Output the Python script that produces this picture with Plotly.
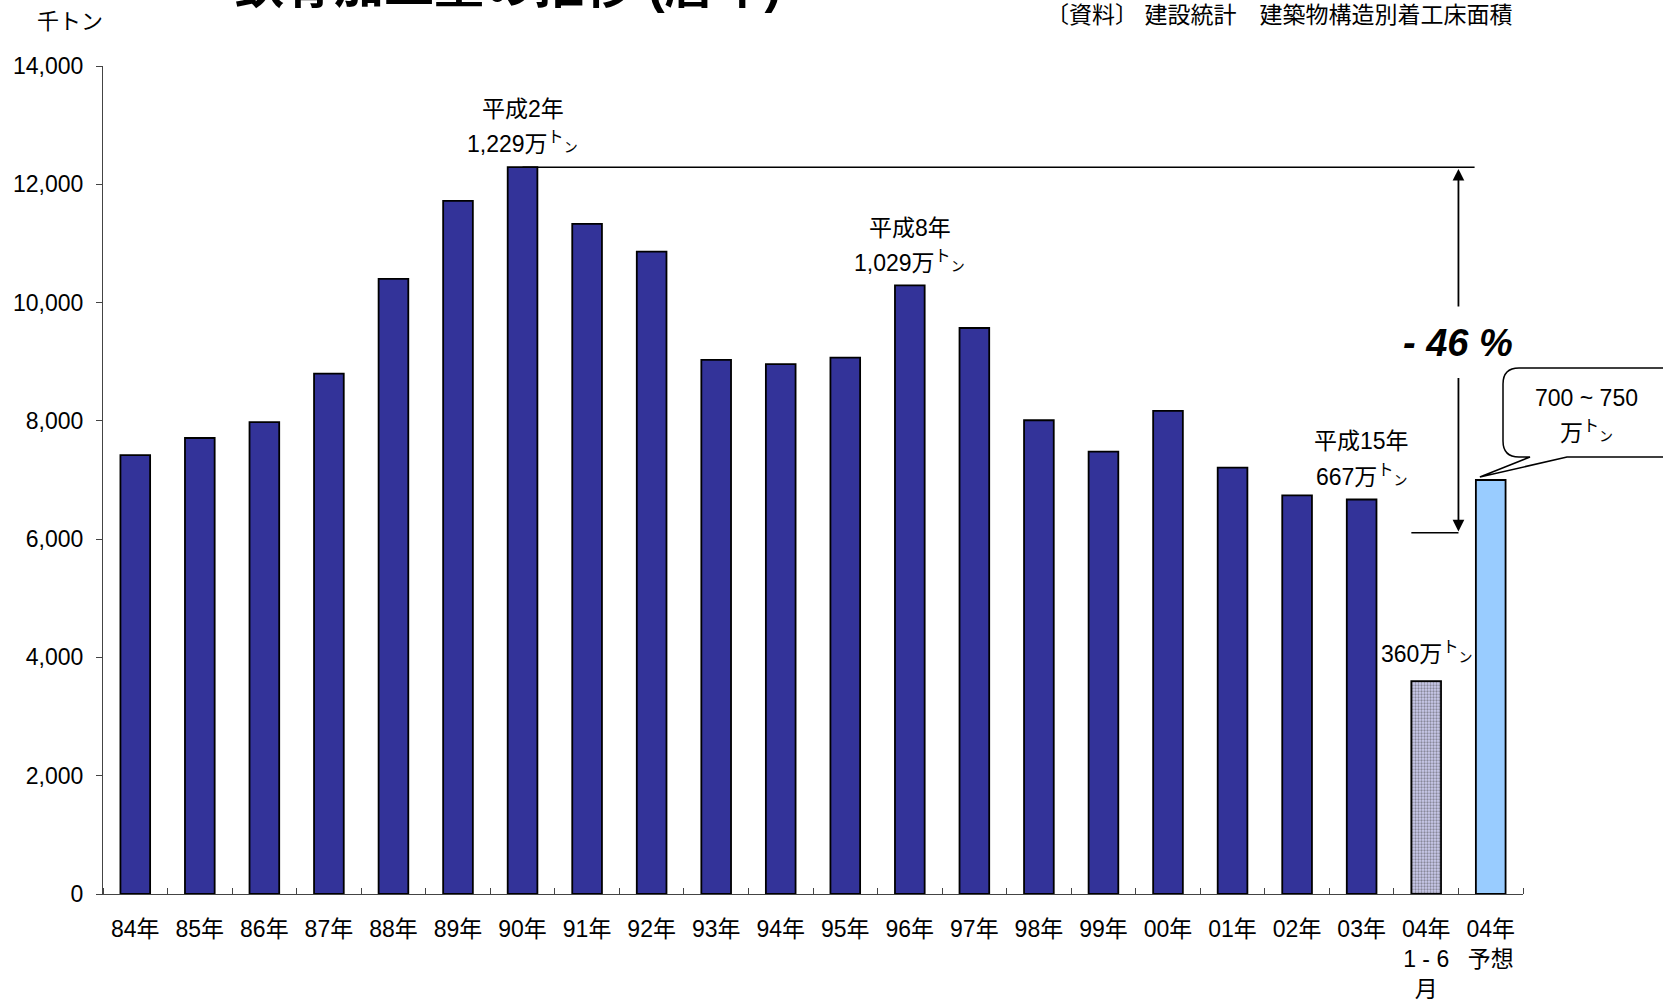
import plotly.graph_objects as go

# ---------------- data ----------------
categories = ["84年", "85年", "86年", "87年", "88年", "89年", "90年", "91年", "92年", "93年",
              "94年", "95年", "96年", "97年", "98年", "99年", "00年", "01年", "02年", "03年",
              "04年<br>1 - 6<br>月", "04年<br>予想"]
values = [7420, 7710, 7980, 8800, 10400, 11720, 12290, 11330, 10860, 9030,
          8960, 9070, 10290, 9570, 8010, 7480, 8170, 7210, 6740, 6670,
          3600, 7000]
ytick_vals = [0, 2000, 4000, 6000, 8000, 10000, 12000, 14000]
ytick_text = ["0", "2,000", "4,000", "6,000", "8,000", "10,000", "12,000", "14,000"]

peak_idx = 6          # 90年
arrow_x = 20.5        # between the two 04 bars
peak_line_end = 20.75
low_level = 6110      # lower reference line
low_line_start = 19.77

FONT = "Liberation Sans, Arial, Noto Sans CJK JP, sans-serif"
NAVY = "#333399"
TON = "万<sup>ト</sup><span style='font-size:14px'>ン</span>"

x = list(range(len(categories)))
n = len(categories)

# layout geometry (px)
W, H = 1663, 1004
ML, MR, MT, MB = 103, 140, 66, 110
PW, PH = W - ML - MR, H - MT - MB
YMAX = 14000

def px_x(px):
    return (px - ML) / PW

def px_y(py):
    return (H - MB - py) / PH

fig = go.Figure()

colors = [NAVY] * 20 + ["#ccccee", "#99CCFF"]
patterns = [""] * 20 + [".", ""]
fig.add_trace(go.Bar(
    x=x, y=values, width=0.46,
    marker=dict(color=colors,
                line=dict(color="black", width=1.8),
                pattern=dict(shape=patterns, fgcolor="#5555aa", bgcolor="#d8d8f0",
                             size=3, solidity=0.45)),
    hoverinfo="skip", showlegend=False,
))

shapes = []
# peak reference line
shapes.append(dict(type="line", xref="x", yref="y", x0=peak_idx, x1=peak_line_end,
                   y0=values[peak_idx], y1=values[peak_idx],
                   line=dict(color="black", width=1.5)))
# low reference line
shapes.append(dict(type="line", xref="x", yref="y", x0=low_line_start, x1=arrow_x,
                   y0=low_level, y1=low_level, line=dict(color="black", width=1.5)))

# callout bubble for 04予想 (paper coords, pixel geometry)
bx0, bx1 = 1503, 1700
by0, by1 = 368, 457
r = 16
apex_px = (ML + (21 + 0.5 - 0.23) / n * PW + 4, H - MB - values[21] / YMAX * PH - 3)
tail_l, tail_r = 1530, 1567

def P(px, py):
    return f"{px_x(px):.5f},{px_y(py):.5f}"

path = (f"M {P(bx0 + r, by0)} L {P(bx1, by0)} L {P(bx1, by1)} "
        f"L {P(tail_r, by1)} L {P(*apex_px)} L {P(tail_l, by1)} "
        f"L {P(bx0 + r, by1)} Q {P(bx0, by1)} {P(bx0, by1 - r)} "
        f"L {P(bx0, by0 + r)} Q {P(bx0, by0)} {P(bx0 + r, by0)} Z")
shapes.append(dict(type="path", xref="paper", yref="paper", path=path,
                   fillcolor="white", line=dict(color="black", width=1.5)))

annotations = []
def ann(text, xx, yy, size=23, xref="x", yref="y", **kw):
    d = dict(text=text, x=xx, y=yy, xref=xref, yref=yref, showarrow=False,
             xanchor="center", yanchor="middle",
             font=dict(family=FONT, size=size, color="black"))
    d.update(kw)
    annotations.append(d)

ann("平成2年", 6, 13270)
ann("1,229" + TON, 6, 12720)
ann("平成8年", 12, 11260)
ann("1,029" + TON, 12, 10710)
ann("平成15年", 19, 7660)
ann("667" + TON, 19, 7090)
ann("360" + TON, 20, 4090)
ann("700 ~ 750", px_x(1586), px_y(398), xref="paper", yref="paper")
ann(TON, px_x(1586), px_y(431), xref="paper", yref="paper")
ann("<b><i>- 46 %</i></b>", arrow_x, 9320, size=38)

# arrows
annotations.append(dict(x=arrow_x, y=values[peak_idx] - 30, ax=arrow_x, ay=9910,
                        xref="x", yref="y", axref="x", ayref="y", text="",
                        showarrow=True, arrowhead=2, arrowsize=1.3, arrowwidth=1.8,
                        arrowcolor="black"))
annotations.append(dict(x=arrow_x, y=low_level + 20, ax=arrow_x, ay=8750,
                        xref="x", yref="y", axref="x", ayref="y", text="",
                        showarrow=True, arrowhead=2, arrowsize=1.3, arrowwidth=1.8,
                        arrowcolor="black"))

# headers
ann("千トン", px_x(70), px_y(22), size=22, xref="paper", yref="paper")
ann("〔資料〕 建設統計　建築物構造別着工床面積", px_x(1514), px_y(15), size=23,
    xref="paper", yref="paper", xanchor="right")
ann("<b>鉄骨加工量の推移 (暦年)</b>", px_x(507), px_y(-14), size=50,
    xref="paper", yref="paper")

fig.update_layout(
    width=W, height=H,
    margin=dict(l=ML, r=MR, t=MT, b=MB, pad=0),
    plot_bgcolor="white", paper_bgcolor="white",
    font=dict(family=FONT, size=22, color="black"),
    shapes=shapes, annotations=annotations,
    xaxis=dict(range=[-0.5, n - 0.5], tickvals=x, ticktext=categories,
               ticks="", showline=True, linecolor="#444", linewidth=1.2,
               showgrid=False, zeroline=False, tickfont=dict(size=23),
               ticklabelstandoff=14, automargin=False,
               minor=dict(tick0=-0.5, dtick=1, ticks="inside", ticklen=6,
                          tickcolor="#444", showgrid=False)),
    yaxis=dict(range=[0, YMAX], tickvals=ytick_vals, ticktext=ytick_text,
               ticks="outside", ticklen=6, tickcolor="#444", showline=True,
               linecolor="#444", linewidth=1.2, showgrid=False, zeroline=False,
               tickfont=dict(size=23), ticklabelstandoff=8, automargin=False),
)

fig.write_html("out.html")
